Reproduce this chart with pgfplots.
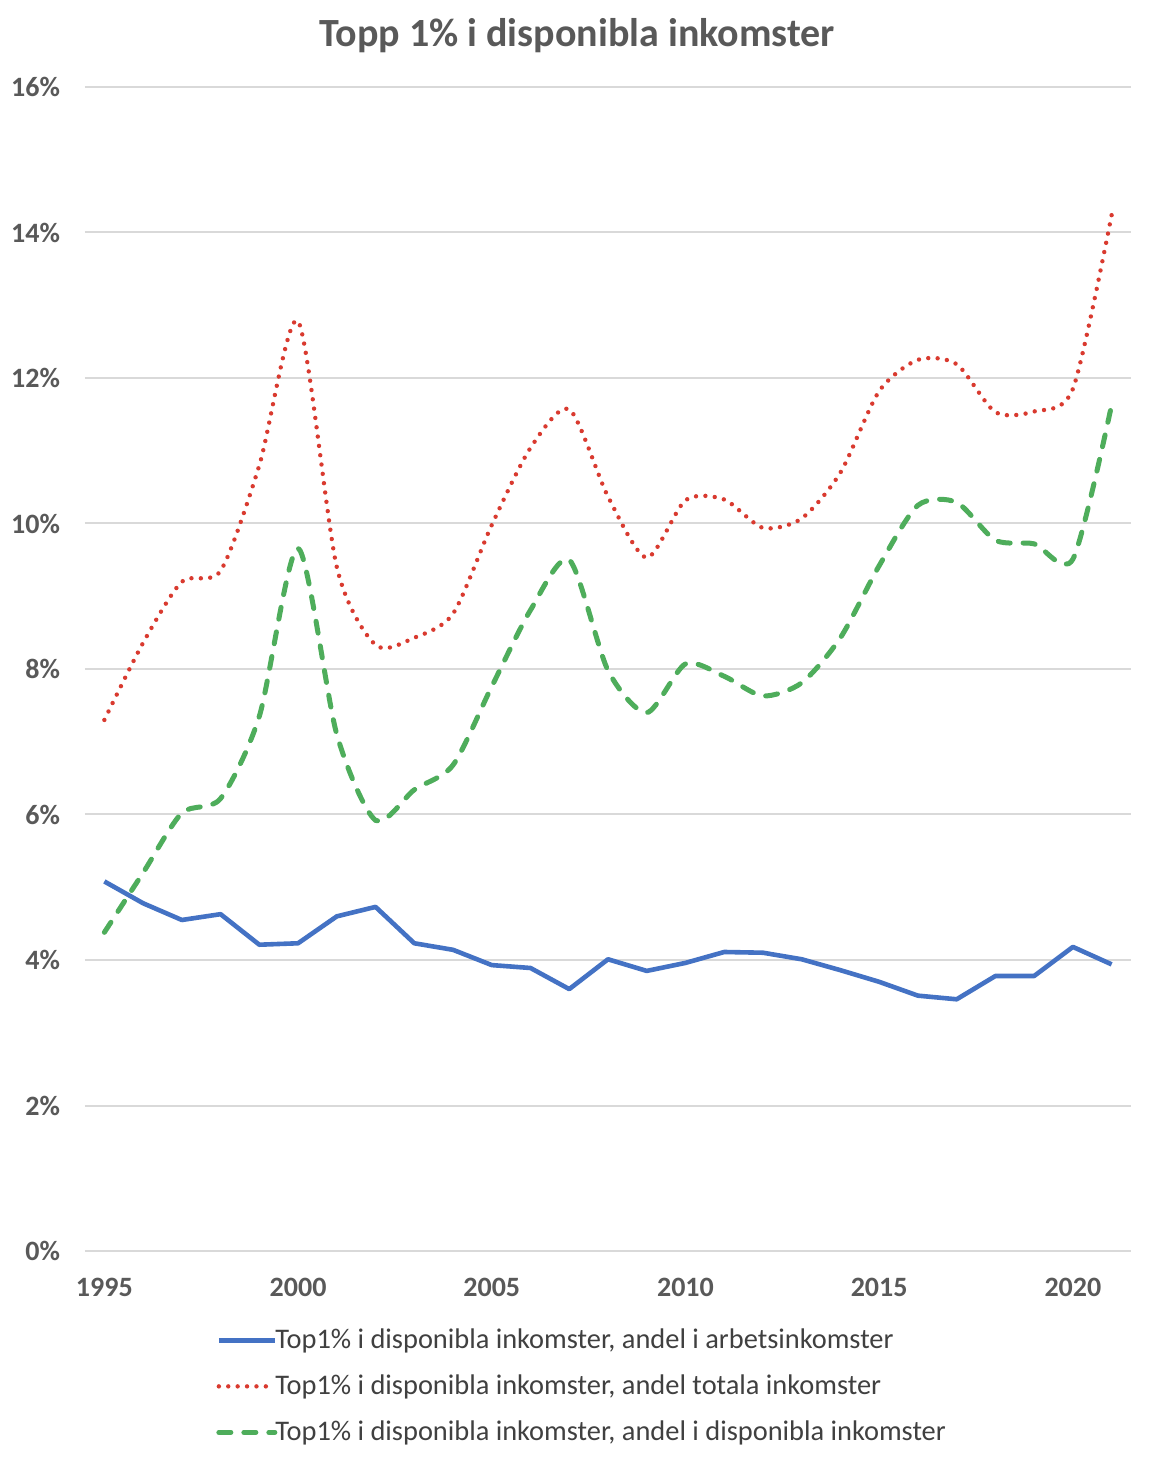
\documentclass[border=0pt]{standalone}
\usepackage{fontspec}
\setmainfont{Carlito}
\usepackage{pgfplots}
\pgfplotsset{compat=1.18}

\definecolor{serieblue}{HTML}{4472C4}
\definecolor{seriered}{HTML}{D93A2F}
\definecolor{seriegreen}{HTML}{4EAD5B}
\definecolor{gridgray}{HTML}{D9D9D9}
\definecolor{labelgray}{HTML}{595959}
\definecolor{legendgray}{HTML}{404040}

\begin{document}
\begin{tikzpicture}
\useasboundingbox[fill=white] (0,0) rectangle (581pt,732pt);
\node[font=\fontsize{20}{24}\selectfont\bfseries, text=labelgray] at (288.5pt,714pt) {Topp 1\% i disponibla inkomster};
\begin{axis}[
    at={(42.5pt,106.5pt)}, anchor=south west,
    scale only axis, width=523pt, height=582pt,
    xmin=1994.5, xmax=2021.5,
    ymin=0, ymax=16,
    xtick={1995,2000,...,2020},
    ytick={0,2,...,16},
    axis line style={draw=none},
    major tick length=0pt,
    ymajorgrids=true,
    grid style={gridgray, line width=1pt},
    /pgf/number format/assume math mode=true,
    /pgf/number format/1000 sep={},
    xticklabel style={font=\fontsize{14}{16}\selectfont\bfseries, text=labelgray, yshift=-10pt},
    yticklabel={\pgfmathprintnumber{\tick}\%},
    yticklabel style={font=\fontsize{14}{16}\selectfont\bfseries, text=labelgray, xshift=-9pt},
    legend style={
        at={(0.1252,-0.1163)}, anchor=west,
        draw=none, fill=none, inner xsep=0pt,
        font=\fontsize{14.2}{17}\selectfont, text=legendgray,
        nodes={inner sep=0pt, text height=11pt, text depth=3pt},
        row sep=9pt,
        /tikz/every odd column/.append style={column sep=-1pt},
    },
    legend cell align=left,
    legend image code/.code={\draw[#1] (0pt,0pt) -- (28pt,0pt);},
]
\addplot[serieblue, line width=2.3pt, line join=round] coordinates {
    (1995,5.08) (1996,4.78) (1997,4.55) (1998,4.63) (1999,4.21)
    (2000,4.23) (2001,4.60) (2002,4.73) (2003,4.23) (2004,4.14)
    (2005,3.93) (2006,3.89) (2007,3.60) (2008,4.01) (2009,3.85)
    (2010,3.96) (2011,4.11) (2012,4.10) (2013,4.01) (2014,3.86)
    (2015,3.70) (2016,3.51) (2017,3.46) (2018,3.78) (2019,3.78)
    (2020,4.18) (2021,3.94)
};
\addlegendentry{Top1\% i disponibla inkomster, andel i arbetsinkomster}
\addplot[seriered, line width=2.2pt, line cap=round, dash pattern=on 0pt off 4.7pt, smooth, tension=0.45] coordinates {
    (1995,7.30) (1996,8.36) (1997,9.20) (1998,9.35) (1999,10.80)
    (2000,12.78) (2001,9.40) (2002,8.33) (2003,8.43) (2004,8.76)
    (2005,9.98) (2006,11.04) (2007,11.57) (2008,10.37) (2009,9.53)
    (2010,10.32) (2011,10.33) (2012,9.94) (2013,10.07) (2014,10.70)
    (2015,11.82) (2016,12.25) (2017,12.19) (2018,11.53) (2019,11.54)
    (2020,11.85) (2021,14.24)
};
\addlegendentry{Top1\% i disponibla inkomster, andel totala inkomster}
\addplot[seriegreen, line width=2.5pt, line cap=round, dash pattern=on 6pt off 6.5pt, smooth, tension=0.45] coordinates {
    (1995,4.38) (1996,5.20) (1997,6.02) (1998,6.22) (1999,7.35)
    (2000,9.66) (2001,7.10) (2002,5.92) (2003,6.34) (2004,6.68)
    (2005,7.76) (2006,8.81) (2007,9.50) (2008,7.98) (2009,7.40)
    (2010,8.07) (2011,7.90) (2012,7.63) (2013,7.81) (2014,8.43)
    (2015,9.42) (2016,10.25) (2017,10.29) (2018,9.77) (2019,9.72)
    (2020,9.51) (2021,11.63)
};
\addlegendentry{Top1\% i disponibla inkomster, andel i disponibla inkomster}
\end{axis}
\end{tikzpicture}
\end{document}
